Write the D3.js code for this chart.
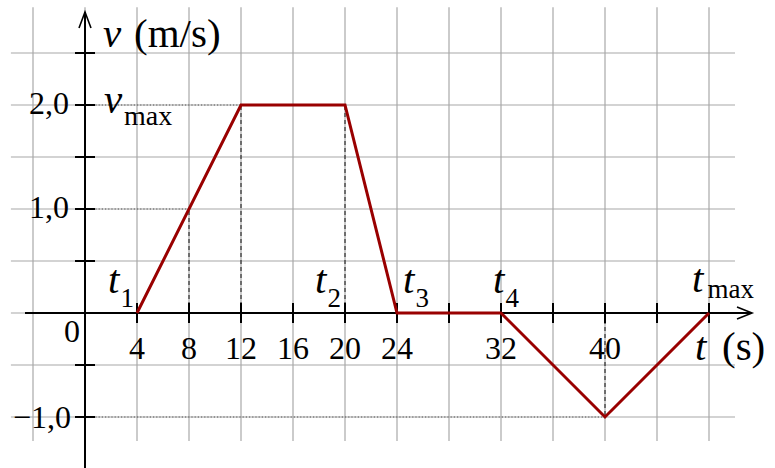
<!DOCTYPE html>
<html>
<head>
<meta charset="utf-8">
<script src="https://cdn.jsdelivr.net/npm/d3@7/dist/d3.min.js"></script>
<style>
  html, body { margin: 0; padding: 0; background: #fff; }
  svg { display: block; }
  text { font-family: "Liberation Serif", "Times New Roman", serif; fill: #000; }
</style>
</head>
<body>
<svg id="chart" width="775" height="468"></svg>
<script>
// Velocity profile: time (s) and velocity (m/s) at each corner
const times = [4, 12, 20, 24, 32, 40, 48];
const velocities = [0, 2, 2, 0, 0, -1, 0];

// Axis ticks and labels
const xTicks = [4, 8, 12, 16, 20, 24, 28, 32, 36, 40, 44, 48];
const xTickLabels = [4, 8, 12, 16, 20, 24, 32, 40];
const yTicks = [-1, -0.5, 0.5, 1, 1.5, 2, 2.5];
const yTickLabels = [2, 1, -1];

// Grid lines
const gridTimes = [-4, 0, 4, 8, 12, 16, 20, 24, 28, 32, 36, 40, 44, 48];
const gridVelocities = [-1, -0.5, 0, 0.5, 1, 1.5, 2, 2.5];

// Named instants along the time axis
const instantTimes = [4, 20, 24, 32, 48];
const instantSubs = ["1", "2", "3", "4", "max"];
// horizontal shift of each instant label relative to its instant (px)
const instantShift = [-29, -30, 6, -8, -17];

// Helper guides: dotted horizontals and dashed verticals
const dottedGuides = [ { v: 2, t: 12 }, { v: 1, t: 8 }, { v: -1, t: 40 } ];
const dashedGuides = [ { t: 8, v: 1 }, { t: 12, v: 2 }, { t: 20, v: 2 }, { t: 40, v: -1 } ];

const svg = d3.select("#chart");
const x = d3.scaleLinear().domain([0, 48]).range([85, 709]);
const y = d3.scaleLinear().domain([0, 2]).range([313, 105]);

const fmt = v => (v < 0 ? "\u2212" : "") + Math.abs(v).toFixed(1).replace(".", ",");

// Grid
const grid = svg.append("g").attr("stroke", "#a8a8a8").attr("stroke-width", 1.2);
grid.selectAll("line.v").data(gridTimes).join("line")
  .attr("x1", d => x(d)).attr("x2", d => x(d))
  .attr("y1", y(2.94)).attr("y2", y(-1.23));
grid.selectAll("line.h").data(gridVelocities).join("line")
  .attr("x1", x(-5.7)).attr("x2", x(50))
  .attr("y1", d => y(d)).attr("y2", d => y(d));

// Guides
svg.append("g").selectAll("line").data(dottedGuides).join("line")
  .attr("x1", x(0.8)).attr("x2", d => x(d.t))
  .attr("y1", d => y(d.v)).attr("y2", d => y(d.v))
  .attr("stroke", "#555").attr("stroke-width", 1).attr("stroke-dasharray", "1.2,2");
svg.append("g").selectAll("line").data(dashedGuides).join("line")
  .attr("x1", d => x(d.t)).attr("x2", d => x(d.t))
  .attr("y1", y(0)).attr("y2", d => y(d.v))
  .attr("stroke", "#111").attr("stroke-width", 1).attr("stroke-dasharray", "4,3");

// Axes
const axes = svg.append("g").attr("stroke", "#000").attr("stroke-width", 2).attr("fill", "none");
axes.append("line").attr("x1", x(0)).attr("x2", x(0)).attr("y1", 468).attr("y2", 12);
axes.append("path").attr("d", `M${x(0) - 6},28 L${x(0)},12 L${x(0) + 6},28`).attr("stroke-width", 1.6);
axes.append("line").attr("x1", 25).attr("x2", 751).attr("y1", y(0)).attr("y2", y(0));
axes.append("path").attr("d", `M737,${y(0) - 6} L752,${y(0)} L737,${y(0) + 6}`).attr("stroke-width", 1.6);

// Ticks
axes.selectAll("line.xt").data(xTicks).join("line")
  .attr("x1", d => x(d)).attr("x2", d => x(d))
  .attr("y1", y(0) - 10).attr("y2", y(0) + 10);
axes.selectAll("line.yt").data(yTicks).join("line")
  .attr("x1", x(0) - 10).attr("x2", x(0) + 10)
  .attr("y1", d => y(d)).attr("y2", d => y(d));

// Velocity curve
svg.append("path")
  .datum(times.map((t, i) => [t, velocities[i]]))
  .attr("d", d3.line().x(d => x(d[0])).y(d => y(d[1])))
  .attr("fill", "none").attr("stroke", "#990000").attr("stroke-width", 3)
  .attr("stroke-linejoin", "miter");

// Tick labels
svg.append("g").selectAll("text").data(xTickLabels).join("text")
  .attr("x", d => x(d)).attr("y", y(0) + 46)
  .attr("text-anchor", "middle").attr("font-size", 32).text(d => d);
svg.append("g").selectAll("text").data(yTickLabels).join("text")
  .attr("x", d => d < 0 ? 71 : 69).attr("y", d => y(d) + (d < 0 ? 11 : 9))
  .attr("text-anchor", "end").attr("font-size", 32).text(fmt);
svg.append("text").attr("x", 72).attr("y", y(0) + 29)
  .attr("text-anchor", "middle").attr("font-size", 32).text("0");

// Axis titles
const yTitle = svg.append("text").attr("x", 103).attr("y", 47).attr("font-size", 41);
yTitle.append("tspan").attr("font-style", "italic").text("v");
yTitle.append("tspan").attr("x", 134).text("(m/s)");

const xTitle = svg.append("text").attr("x", 695).attr("y", 360).attr("font-size", 41);
xTitle.append("tspan").attr("font-style", "italic").text("t");
xTitle.append("tspan").attr("x", 722).text("(s)");

// v_max label
const vmax = svg.append("text").attr("x", 104).attr("y", y(2) + 8).attr("font-size", 41);
vmax.append("tspan").attr("font-style", "italic").text("v");
vmax.append("tspan").attr("font-size", 28).attr("x", 124).attr("dy", 12).text("max");

// Instant labels
const inst = svg.append("g").selectAll("text").data(instantTimes).join("text")
  .attr("x", (d, i) => x(d) + instantShift[i])
  .attr("y", (d, i) => instantSubs[i] === "max" ? y(0) - 21 : y(0) - 20)
  .attr("font-size", 41);
inst.append("tspan").attr("font-style", "italic").text("t");
inst.append("tspan").attr("font-size", 27)
  .attr("dy", (d, i) => instantSubs[i] === "max" ? 6 : 14)
  .attr("dx", (d, i) => instantSubs[i] === "max" ? 4 : 1)
  .text((d, i) => instantSubs[i]);
</script>
</body>
</html>
